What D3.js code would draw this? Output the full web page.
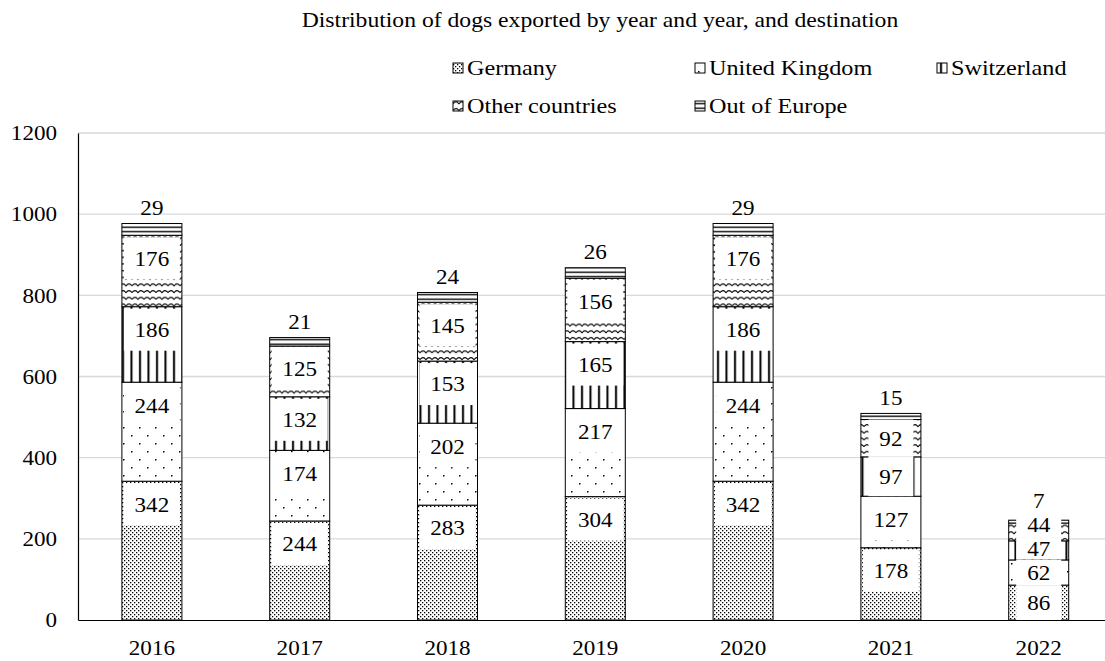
<!DOCTYPE html>
<html>
<head>
<meta charset="utf-8">
<script src="https://cdn.jsdelivr.net/npm/d3@7"></script>
<style>
  body { margin: 0; background: #fff; }
  svg { display: block; font-family: "Liberation Serif", "Times New Roman", serif; }
  svg text { font-family: "Liberation Serif", "Times New Roman", serif; }
  /* the reference text is a little wider than plain Times */
  .wide { transform-box: fill-box; transform-origin: center; transform: scaleX(1.1); }
  .wide-r { transform-box: fill-box; transform-origin: right; transform: scaleX(1.1); }
  .wide-l { transform-box: fill-box; transform-origin: left; transform: scaleX(1.1); }
</style>
</head>
<body>
<div id="chart"></div>
<script>
// data
const years = ['2016', '2017', '2018', '2019', '2020', '2021', '2022'];
const seriesNames = ['Germany', 'United Kingdom', 'Switzerland', 'Other countries', 'Out of Europe'];
const germany = [342, 244, 283, 304, 342, 178, 86];
const unitedKingdom = [244, 174, 202, 217, 244, 127, 62];
const switzerland = [186, 132, 153, 165, 186, 97, 47];
const otherCountries = [176, 125, 145, 156, 176, 92, 44];
const outOfEurope = [29, 21, 24, 26, 29, 15, 7];
const yTicks = [0, 200, 400, 600, 800, 1000, 1200];

const W = 1105, H = 661;
const FS = 21;
const keys = ['de', 'uk', 'ch', 'other', 'out'];
const rows = years.map((yr, i) => ({
  year: yr, de: germany[i], uk: unitedKingdom[i], ch: switzerland[i],
  other: otherCountries[i], out: outOfEurope[i]
}));

const svg = d3.select('#chart').append('svg')
  .attr('width', W).attr('height', H);

// fill patterns (black on white, like the original)
const defs = svg.append('defs');
function pattern(id, w, h) {
  const p = defs.append('pattern').attr('id', id)
    .attr('patternUnits', 'userSpaceOnUse').attr('width', w).attr('height', h);
  p.append('rect').attr('width', w).attr('height', h).attr('fill', '#fff');
  return p;
}
const pDe = pattern('p-de', 4, 4);
pDe.append('rect').attr('x', 0).attr('y', 0).attr('width', 1.3).attr('height', 1.3).attr('fill', '#000');
pDe.append('rect').attr('x', 2).attr('y', 2).attr('width', 1.3).attr('height', 1.3).attr('fill', '#000');

const pUk = pattern('p-uk', 16, 16);
pUk.append('rect').attr('x', 3).attr('y', 3).attr('width', 1.5).attr('height', 1.5).attr('fill', '#000');
pUk.append('rect').attr('x', 11).attr('y', 11).attr('width', 1.5).attr('height', 1.5).attr('fill', '#000');

const pCh = pattern('p-ch', 8.5, 4);
pCh.append('rect').attr('x', 3).attr('y', 0).attr('width', 2).attr('height', 4).attr('fill', '#000');

const pOther = pattern('p-other', 12, 6.7);
pOther.append('path').attr('d', 'M0,4.5 Q3,0.5 6,4.5 Q9,0.5 12,4.5')
  .attr('fill', 'none').attr('stroke', '#000').attr('stroke-width', 1);

const pOut = pattern('p-out', 4, 4.5);
pOut.append('rect').attr('x', 0).attr('y', 1.5).attr('width', 4).attr('height', 1.4).attr('fill', '#000');

const fills = { de: 'url(#p-de)', uk: 'url(#p-uk)', ch: 'url(#p-ch)', other: 'url(#p-other)', out: 'url(#p-out)' };

// scales
const x = d3.scaleBand().domain(years).range([78, 1112.6])
  .paddingInner(0.594).paddingOuter(0.297);
const y = d3.scaleLinear().domain([0, 1200]).range([620, 133]);

// gridlines
svg.append('g')
  .selectAll('line')
  .data(yTicks.filter(d => d > 0))
  .enter().append('line')
  .attr('x1', 78).attr('x2', W)
  .attr('y1', d => y(d)).attr('y2', d => y(d))
  .attr('stroke', '#d9d9d9').attr('stroke-width', 1.3);

// y axis
const yAxis = svg.append('g')
  .attr('transform', 'translate(78,0)')
  .call(d3.axisLeft(y).tickValues(yTicks).tickSize(0).tickPadding(21).tickFormat(d3.format('d')));
yAxis.attr('font-family', null);
yAxis.select('.domain').attr('stroke', '#000').attr('stroke-width', 1.2);
yAxis.selectAll('text').attr('class', 'wide-r')
  .style('font-size', FS + 'px').attr('fill', '#000');

// stacked bars
const stack = d3.stack().keys(keys)(rows);
const layers = svg.append('g').selectAll('g')
  .data(stack).enter().append('g')
  .attr('fill', d => fills[d.key]);

layers.selectAll('rect')
  .data(d => d.map(v => ({ key: d.key, v })))
  .enter().append('rect')
  .attr('x', d => x(d.v.data.year))
  .attr('width', x.bandwidth())
  .attr('y', d => y(d.v[1]))
  .attr('height', d => y(d.v[0]) - y(d.v[1]))
  .attr('stroke', '#000').attr('stroke-width', 1);

// x axis
const xAxis = svg.append('g')
  .attr('transform', 'translate(0,620)')
  .call(d3.axisBottom(x).tickSize(0).tickPadding(20));
xAxis.attr('font-family', null);
xAxis.select('.domain').attr('stroke', '#000').attr('stroke-width', 1.2);
xAxis.selectAll('text').attr('class', 'wide')
  .style('font-size', FS + 'px').attr('fill', '#000');

// data labels: inside end with white box, top series above the bar
const labelData = [];
years.forEach((yr, i) => {
  let prev = Infinity;
  stack.forEach(layer => {
    const v = layer[i];
    const top = y(v[1]), h = y(v[0]) - y(v[1]);
    let cy = layer.key === 'out' ? top - 16 : top + Math.min(23, h / 2);
    cy = Math.min(cy, prev - 24); // keep small labels from piling up
    prev = cy;
    labelData.push({ key: layer.key, value: v[1] - v[0], year: yr, h, cy });
  });
});

const boxW = d => Math.min(String(d.value).length * 11.5 + 22, x.bandwidth() - 4);
const boxH = d => Math.min(42, Math.max(d.h, 22));

const lab = svg.append('g');
lab.selectAll('rect')
  .data(labelData.filter(d => d.key !== 'out')).enter().append('rect')
  .attr('x', d => x(d.year) + x.bandwidth() / 2 - boxW(d) / 2)
  .attr('width', boxW)
  .attr('y', d => d.cy - boxH(d) / 2)
  .attr('height', boxH)
  .attr('fill', '#fff');
lab.selectAll('text')
  .data(labelData).enter().append('text')
  .attr('class', 'wide')
  .attr('x', d => x(d.year) + x.bandwidth() / 2)
  .attr('y', d => d.cy)
  .attr('text-anchor', 'middle').attr('dy', '0.35em')
  .style('font-size', FS + 'px').attr('fill', '#000')
  .text(d => d.value);

// title
svg.append('text')
  .attr('class', 'wide')
  .attr('x', 600).attr('y', 27)
  .attr('text-anchor', 'middle')
  .style('font-size', '21.5px')
  .text('Distribution of dogs exported by year and year, and destination');

// legend
const legendPos = [[453, 68], [695, 68], [937, 68], [453, 106], [695, 106]];
const legend = svg.append('g').selectAll('g')
  .data(keys).enter().append('g')
  .attr('transform', (d, i) => `translate(${legendPos[i][0]},${legendPos[i][1]})`);
legend.append('rect')
  .attr('x', 0).attr('y', -5).attr('width', 10).attr('height', 10)
  .attr('fill', d => fills[d]).attr('stroke', '#000').attr('stroke-width', 1);
legend.append('text')
  .attr('class', 'wide-l')
  .attr('x', 14).attr('y', 7)
  .style('font-size', '22px')
  .text((d, i) => seriesNames[i]);
</script>
</body>
</html>
